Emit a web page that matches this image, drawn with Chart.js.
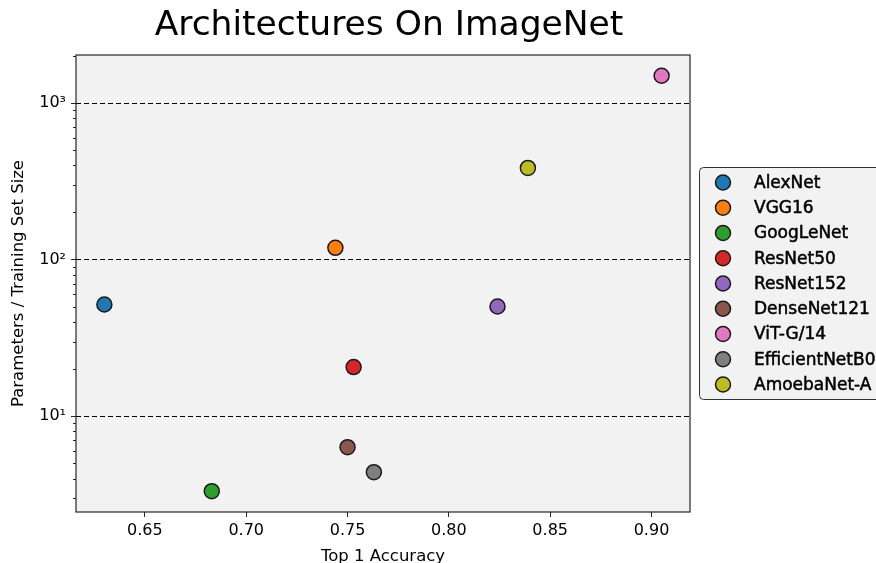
<!DOCTYPE html>
<html>
<head>
<meta charset="utf-8">
<script src="https://cdn.jsdelivr.net/npm/chart.js@4.4.1/dist/chart.umd.min.js"></script>
<style>
html, body { margin: 0; padding: 0; background: #fff; }
</style>
</head>
<body>
<canvas id="chart" width="876" height="563"></canvas>
<script>
// Data
const models = ['AlexNet', 'VGG16', 'GoogLeNet', 'ResNet50', 'ResNet152', 'DenseNet121', 'ViT-G/14', 'EfficientNetB0', 'AmoebaNet-A'];
const top1Accuracy = [0.630, 0.744, 0.683, 0.753, 0.824, 0.750, 0.905, 0.763, 0.839];
const paramsPerSample = [51.7, 119, 3.32, 20.6, 50.2, 6.34, 1494, 4.39, 385];
const colors = ['#1f77b4', '#ff7f0e', '#2ca02c', '#d62728', '#9467bd', '#8c564b', '#e377c2', '#7f7f7f', '#bcbd22'];

const xTicks = [0.65, 0.70, 0.75, 0.80, 0.85, 0.90];
const yMajor = [10, 100, 1000];
const yTickLabels = ['10\u00b9', '10\u00b2', '10\u00b3'];

const X_MIN = 0.616, X_MAX = 0.919;
const Y_MIN = 2.445, Y_MAX = 2027;

const FONT = "'DejaVu Sans', sans-serif";

// all log ticks (minor + major) inside the y range
const yAllTicks = [];
for (let d = 1; d <= 1000; d *= 10) {
    for (let m = 1; m <= 9; m++) {
        const v = m * d;
        if (v >= Y_MIN && v <= Y_MAX) yAllTicks.push(v);
    }
}

// Plugin: plot background, frame, minor ticks, title and legend
const decorations = {
    id: 'decorations',
    beforeDraw(chart) {
        const { ctx, chartArea: a } = chart;
        ctx.save();
        ctx.fillStyle = '#f2f2f2';
        ctx.fillRect(a.left, a.top, a.right - a.left, a.bottom - a.top);
        ctx.restore();
    },
    afterDraw(chart) {
        const { ctx, chartArea: a } = chart;
        const yScale = chart.scales.y;
        ctx.save();

        // frame
        ctx.strokeStyle = '#262626';
        ctx.lineWidth = 1.2;
        ctx.strokeRect(a.left, a.top, a.right - a.left, a.bottom - a.top);

        // minor ticks on the log axis
        ctx.lineWidth = 1;
        yAllTicks.forEach(v => {
            if (yMajor.includes(v)) return;
            const py = Math.round(yScale.getPixelForValue(v)) + 0.5;
            ctx.beginPath();
            ctx.moveTo(a.left, py);
            ctx.lineTo(a.left - 3, py);
            ctx.stroke();
        });

        // title
        ctx.fillStyle = '#000';
        ctx.font = '34.5px ' + FONT;
        ctx.textAlign = 'center';
        ctx.textBaseline = 'alphabetic';
        ctx.fillText('Architectures On ImageNet', (a.left + a.right) / 2 + 6, 35);

        // legend
        const lx = 699.5, ly = 167.5, lw = 200, lh = 232, r = 4;
        ctx.beginPath();
        ctx.moveTo(lx + r, ly);
        ctx.lineTo(lx + lw, ly);
        ctx.lineTo(lx + lw, ly + lh);
        ctx.lineTo(lx + r, ly + lh);
        ctx.arcTo(lx, ly + lh, lx, ly + lh - r, r);
        ctx.lineTo(lx, ly + r);
        ctx.arcTo(lx, ly, lx + r, ly, r);
        ctx.closePath();
        ctx.fillStyle = '#f2f2f2';
        ctx.fill();
        ctx.strokeStyle = '#333';
        ctx.lineWidth = 1;
        ctx.stroke();

        ctx.font = '17px ' + FONT;
        ctx.textAlign = 'left';
        ctx.textBaseline = 'middle';
        chart.data.datasets.forEach((ds, i) => {
            const cy = 182.5 + i * 25.25;
            ctx.beginPath();
            ctx.arc(723, cy, 7.5, 0, Math.PI * 2);
            ctx.fillStyle = ds.backgroundColor;
            ctx.fill();
            ctx.lineWidth = 1.5;
            ctx.strokeStyle = '#1a1a1a';
            ctx.stroke();
            // drawn text is a touch heavier in the reference
            ctx.fillStyle = '#000';
            ctx.strokeStyle = '#000';
            ctx.lineWidth = 0.5;
            ctx.fillText(ds.label, 754, cy + 1);
            ctx.strokeText(ds.label, 754, cy + 1);
        });

        ctx.restore();
    }
};

const datasets = models.map((name, i) => ({
    label: name,
    data: [{ x: top1Accuracy[i], y: paramsPerSample[i] }],
    backgroundColor: colors[i],
    borderColor: '#1a1a1a',
    borderWidth: 1.5,
    pointRadius: 7.5,
    pointHoverRadius: 7.5
}));

new Chart(document.getElementById('chart'), {
    type: 'scatter',
    data: { datasets: datasets },
    options: {
        responsive: false,
        animation: false,
        devicePixelRatio: 1,
        layout: { padding: { top: 55, right: 186, left: 0, bottom: 0 } },
        plugins: {
            legend: { display: false },
            title: { display: false },
            tooltip: { enabled: false }
        },
        scales: {
            x: {
                type: 'linear',
                min: X_MIN,
                max: X_MAX,
                afterBuildTicks: scale => { scale.ticks = xTicks.map(v => ({ value: v })); },
                afterFit: scale => { scale.height = 51; },
                grid: { drawOnChartArea: false, tickLength: 5, tickColor: '#262626', tickWidth: 1 },
                border: { display: false },
                ticks: {
                    autoSkip: false,
                    maxRotation: 0,
                    padding: 4,
                    color: '#000',
                    font: { family: FONT, size: 16 },
                    callback: v => v.toFixed(2)
                },
                title: {
                    display: true,
                    text: 'Top 1 Accuracy',
                    color: '#000',
                    font: { family: FONT, size: 16.5 },
                    padding: { top: 0, bottom: -4 }
                }
            },
            y: {
                type: 'logarithmic',
                min: Y_MIN,
                max: Y_MAX,
                afterBuildTicks: scale => { scale.ticks = yMajor.map(v => ({ value: v })); },
                afterFit: scale => { scale.width = 76; },
                grid: {
                    color: '#000',
                    lineWidth: 1,
                    tickLength: 5,
                    tickColor: '#262626',
                    tickBorderDash: []
                },
                border: { display: false, dash: [5, 3] },
                ticks: {
                    autoSkip: false,
                    padding: 5,
                    color: '#000',
                    font: { family: FONT, size: 16 },
                    callback: v => {
                        const k = yMajor.indexOf(v);
                        return k >= 0 ? yTickLabels[k] : '';
                    }
                },
                title: {
                    display: true,
                    text: 'Parameters / Training Set Size',
                    color: '#000',
                    font: { family: FONT, size: 16.5 },
                    padding: { top: 9, bottom: 0 }
                }
            }
        }
    },
    plugins: [decorations]
});
</script>
</body>
</html>
